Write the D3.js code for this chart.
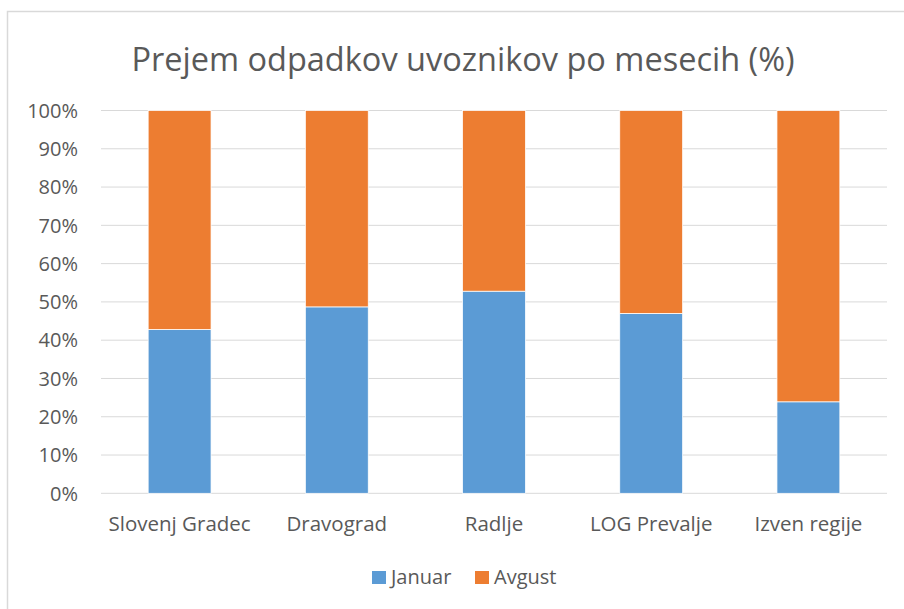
<!DOCTYPE html>
<html>
<head>
<meta charset="utf-8">
<script src="https://cdn.jsdelivr.net/npm/d3@7"></script>
<style>
  body { margin: 0; background: #fff; }
  svg text { font-family: "Open Sans", sans-serif; fill: #595959; }
</style>
</head>
<body>
<div id="chart"></div>
<script>
const categories = ["Slovenj Gradec", "Dravograd", "Radlje", "LOG Prevalje", "Izven regije"];
const januar = [42.8, 48.7, 52.8, 47.0, 23.9];
const avgust = [57.2, 51.3, 47.2, 53.0, 76.1];
const seriesNames = ["Januar", "Avgust"];
const yTicks = [0, 10, 20, 30, 40, 50, 60, 70, 80, 90, 100];

const colors = { Januar: "#5B9BD5", Avgust: "#ED7D31" };

const W = 904, H = 609;
const plot = { left: 101, right: 887, top: 110.5, bottom: 493.3 };

const svg = d3.select("#chart")
  .append("svg")
  .attr("width", W)
  .attr("height", H);

// chart frame
svg.append("rect")
  .attr("x", 7.5).attr("y", 11.5)
  .attr("width", 920).attr("height", 620)
  .attr("fill", "#fff")
  .attr("stroke", "#d9d9d9")
  .attr("stroke-width", 1.5);

const rows = categories.map((c, i) => ({ cat: c, Januar: januar[i], Avgust: avgust[i] }));
const stacked = d3.stack().keys(seriesNames)(rows);

const x = d3.scaleBand()
  .domain(categories)
  .range([plot.left, plot.right])
  .paddingInner(0.6)
  .paddingOuter(0.3);

const y = d3.scaleLinear()
  .domain([0, 100])
  .range([plot.bottom, plot.top]);

// gridlines
svg.append("g")
  .selectAll("line")
  .data(yTicks)
  .enter()
  .append("line")
  .attr("x1", plot.left)
  .attr("x2", plot.right)
  .attr("y1", d => y(d))
  .attr("y2", d => y(d))
  .attr("stroke", "#d9d9d9")
  .attr("stroke-width", 1);

// y labels
svg.append("g")
  .selectAll("text")
  .data(yTicks)
  .enter()
  .append("text")
  .attr("x", 78)
  .attr("y", d => y(d))
  .attr("dy", "0.36em")
  .attr("text-anchor", "end")
  .attr("font-size", 20)
  .text(d => d + "%");

// bars
svg.append("g")
  .selectAll("g")
  .data(stacked)
  .enter()
  .append("g")
  .attr("fill", d => colors[d.key])
  .selectAll("rect")
  .data(d => d)
  .enter()
  .append("rect")
  .attr("x", d => x(d.data.cat))
  .attr("width", x.bandwidth())
  .attr("y", d => y(d[1]))
  .attr("height", d => y(d[0]) - y(d[1]))
  .attr("stroke", "#fff")
  .attr("stroke-width", 0.75);

// category labels
svg.append("g")
  .selectAll("text")
  .data(categories)
  .enter()
  .append("text")
  .attr("x", d => x(d) + x.bandwidth() / 2)
  .attr("y", 531)
  .attr("text-anchor", "middle")
  .attr("font-size", 20.5)
  .text(d => d);

// title
svg.append("text")
  .attr("x", 463)
  .attr("y", 71)
  .attr("text-anchor", "middle")
  .attr("font-size", 32.5)
  .text("Prejem odpadkov uvoznikov po mesecih (%)");

// legend
const legendX = [372, 475];
const legend = svg.append("g")
  .selectAll("g")
  .data(seriesNames)
  .enter()
  .append("g")
  .attr("transform", (d, i) => `translate(${legendX[i]},571)`);

legend.append("rect")
  .attr("width", 14)
  .attr("height", 13)
  .attr("fill", d => colors[d]);

legend.append("text")
  .attr("x", 19)
  .attr("y", 13)
  .attr("font-size", 20)
  .text(d => d);
</script>
</body>
</html>
